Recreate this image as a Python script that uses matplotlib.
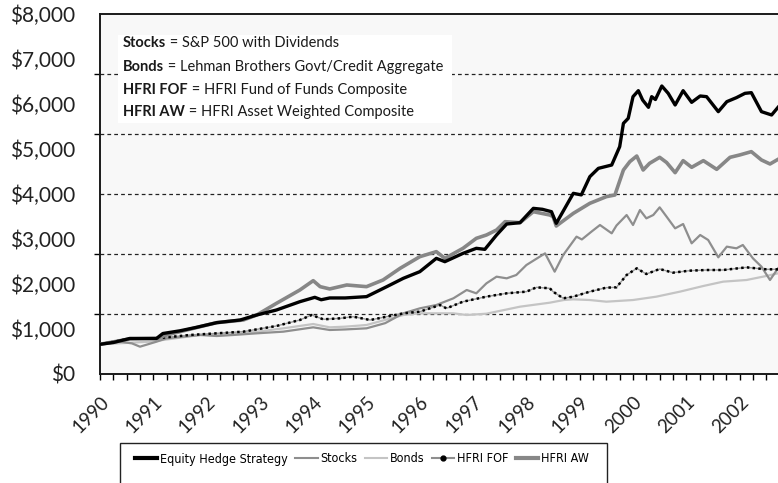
import matplotlib
matplotlib.use("Agg")
import matplotlib.pyplot as plt
from matplotlib.lines import Line2D
from matplotlib.patches import Rectangle
from matplotlib import font_manager
from matplotlib.font_manager import FontProperties

plt.rcParams['font.family'] = ['Lato', 'DejaVu Sans']

# ---------------- data (decimal years, dollars) ----------------
eq_t = [1990.00, 1990.25, 1990.56, 1991.06, 1991.18, 1991.50, 1991.81, 1992.19, 1992.63, 1992.94,
        1993.31, 1993.75, 1994.03, 1994.15, 1994.31, 1994.60, 1995.00, 1995.38, 1995.69, 1996.00,
        1996.31, 1996.47, 1996.81, 1997.06, 1997.22, 1997.44, 1997.63, 1997.88, 1998.13, 1998.30,
        1998.47, 1998.56, 1998.88, 1999.03, 1999.19, 1999.35, 1999.60, 1999.75, 1999.82, 1999.91,
        2000.00, 2000.10, 2000.18, 2000.29, 2000.35, 2000.42, 2000.54, 2000.66, 2000.79, 2000.94,
        2001.10, 2001.26, 2001.38, 2001.60, 2001.76, 2001.94, 2002.10, 2002.22, 2002.41, 2002.60,
        2002.72]
eq_v = [660, 700, 790, 790, 900, 960, 1037, 1141, 1200, 1311,
        1422, 1607, 1704, 1650, 1690, 1690, 1719, 1941, 2126, 2274,
        2570, 2496, 2681, 2793, 2770, 3089, 3333, 3363, 3681, 3660,
        3607, 3348, 4015, 3980, 4385, 4570, 4644, 5052, 5570, 5681,
        6163, 6296, 6089, 5926, 6163, 6100, 6400, 6237, 5978, 6296,
        6037, 6178, 6163, 5830, 6052, 6141, 6237, 6252, 5830, 5756,
        5926]

aw_t = [1990.00, 1990.56, 1991.06, 1991.25, 1991.88, 1992.19, 1992.69, 1992.94, 1993.31, 1993.75,
        1994.00, 1994.13, 1994.31, 1994.63, 1995.00, 1995.31, 1995.63, 1996.00, 1996.31, 1996.47,
        1996.81, 1997.06, 1997.25, 1997.44, 1997.60, 1997.88, 1998.13, 1998.44, 1998.50, 1998.56,
        1998.88, 1999.19, 1999.50, 1999.66, 1999.82, 1999.94, 2000.07, 2000.19, 2000.31, 2000.50,
        2000.63, 2000.79, 2000.94, 2001.10, 2001.32, 2001.57, 2001.82, 2002.00, 2002.22, 2002.41,
        2002.57, 2002.72]
aw_v = [660, 780, 790, 867, 1052, 1141, 1200, 1311, 1570, 1867,
        2074, 1941, 1890, 1978, 1941, 2089, 2348, 2607, 2719, 2570,
        2793, 3015, 3089, 3200, 3385, 3363, 3607, 3533, 3496, 3289,
        3570, 3793, 3941, 3978, 4533, 4719, 4844, 4533, 4681, 4815,
        4700, 4474, 4741, 4593, 4741, 4548, 4815, 4867, 4941, 4756,
        4667, 4770]

st_t = [1990.00, 1990.38, 1990.60, 1990.75, 1991.06, 1991.25, 1991.88, 1992.19, 1992.50, 1992.94,
        1993.44, 1994.00, 1994.31, 1994.60, 1995.00, 1995.35, 1995.69, 1996.00, 1996.31, 1996.63,
        1996.88, 1997.06, 1997.25, 1997.44, 1997.63, 1997.81, 1998.00, 1998.25, 1998.35, 1998.53,
        1998.69, 1998.94, 1999.04, 1999.22, 1999.38, 1999.60, 1999.69, 1999.88, 2000.00, 2000.13,
        2000.25, 2000.38, 2000.50, 2000.63, 2000.79, 2000.94, 2001.10, 2001.26, 2001.41, 2001.60,
        2001.76, 2001.94, 2002.06, 2002.25, 2002.41, 2002.57, 2002.72]
st_v = [660, 718, 680, 607, 718, 793, 867, 844, 867, 904,
        941, 1037, 978, 990, 1015, 1130, 1348, 1459, 1533, 1682,
        1867, 1793, 2015, 2163, 2126, 2200, 2422, 2607, 2681, 2274,
        2644, 3052, 2990, 3163, 3311, 3126, 3300, 3533, 3311, 3644,
        3459, 3533, 3704, 3496, 3237, 3333, 2904, 3089, 2978, 2593,
        2830, 2793, 2867, 2570, 2385, 2089, 2348]

fof_t = [1990.00, 1990.56, 1991.06, 1991.69, 1992.19, 1992.69, 1993.31, 1993.75, 1993.97, 1994.19,
         1994.50, 1994.75, 1995.07, 1995.69, 1996.00, 1996.38, 1996.50, 1996.81, 1997.25, 1997.63,
         1998.00, 1998.19, 1998.44, 1998.50, 1998.69, 1998.88, 1999.19, 1999.50, 1999.69, 1999.88,
         2000.07, 2000.25, 2000.50, 2000.75, 2001.06, 2001.38, 2001.69, 2002.13, 2002.50, 2002.72]
fof_v = [660, 793, 793, 867, 904, 941, 1067, 1200, 1311, 1215,
         1237, 1274, 1200, 1348, 1385, 1533, 1459, 1607, 1719, 1793,
         1830, 1926, 1904, 1830, 1682, 1719, 1830, 1919, 1926, 2200,
         2348, 2222, 2333, 2252, 2296, 2311, 2311, 2370, 2326, 2326]

bd_t = [1990.00, 1990.94, 1991.88, 1992.69, 1993.44, 1994.00, 1994.31, 1994.60, 1995.00, 1995.69,
        1996.00, 1996.63, 1996.88, 1997.25, 1997.88, 1998.44, 1998.70, 1998.88, 1999.19, 1999.50,
        2000.00, 2000.44, 2000.88, 2001.32, 2001.69, 2002.13, 2002.50, 2002.72]
bd_v = [660, 718, 867, 904, 1015, 1111, 1037, 1052, 1089, 1311,
        1348, 1348, 1311, 1340, 1496, 1585, 1644, 1659, 1644, 1607,
        1644, 1719, 1830, 1956, 2052, 2089, 2178, 2237]

years = list(range(1990, 2003))
y_labels = ['$0', '$1,000', '$2,000', '$3,000', '$4,000', '$5,000', '$6,000', '$7,000', '$8,000']
legend_names = ['Equity Hedge Strategy', 'Stocks', 'Bonds', 'HFRI FOF', 'HFRI AW']
note_bold = ['Stocks', 'Bonds', 'HFRI FOF', 'HFRI AW']
note_text = [' = S&P 500 with Dividends', ' = Lehman Brothers Govt/Credit Aggregate',
             ' = HFRI Fund of Funds Composite', ' = HFRI Asset Weighted Composite']


# look for an installed condensed / narrow sans face for the legend
def find_condensed():
    best = None
    for f in font_manager.fontManager.ttflist:
        nm = f.name.lower()
        fn = f.fname.lower()
        is_cond = ('condensed' in nm or 'narrow' in nm or 'condensed' in fn or 'narrow' in fn
                   or f.stretch in ('condensed', 'semi-condensed', 'extra-condensed'))
        if not is_cond:
            continue
        if f.style != 'normal':
            continue
        w = f.weight if isinstance(f.weight, int) else 400
        if w != 400:
            continue
        if 'mono' in nm or ('serif' in nm and 'sans' not in nm):
            continue
        if 'liberation' in nm:
            score = 3
        elif 'dejavu' in nm:
            score = 2
        else:
            score = 1
        if best is None or score > best[0]:
            best = (score, f.fname)
    return best[1] if best else None


cond_file = find_condensed()

# ---------------- figure ----------------
W, H = 778, 483
fig = plt.figure(figsize=(W / 100, H / 100), dpi=100)
ax = fig.add_axes([100 / W, 1 - 374 / H, 678 / W, 360 / H])
ax.set_facecolor('#f8f8f8')

ax.set_xlim(1990, 2002.72)
ax.set_ylim(0, 8000)

# gridlines at 1/6 divisions
grid_vals = [8000 * k / 6 for k in range(1, 6)]
for g in grid_vals:
    ax.axhline(g, color='#222222', lw=0.9, ls=(0, (3, 2.5)), zorder=1)

# note box
ax.add_patch(Rectangle((18 / 678, (374 - 123) / 360), 334 / 678, 88 / 360,
                       transform=ax.transAxes, facecolor='white', edgecolor='none', zorder=2))

# series
ax.plot(bd_t, bd_v, color='#c4c4c4', lw=1.6, zorder=3)
ax.plot(st_t, st_v, color='#8e8e8e', lw=1.6, zorder=4)
ax.plot(fof_t, fof_v, color='#9a9a9a', lw=1.0, zorder=5)
ax.plot(fof_t, fof_v, color='black', lw=1.8, ls=(0, (1, 1.3)), zorder=5)
ax.plot(aw_t, aw_v, color='#878787', lw=2.6, zorder=6)
ax.plot(eq_t, eq_v, color='black', lw=2.4, zorder=7)

# spines
for s in ['top', 'left', 'bottom']:
    ax.spines[s].set_linewidth(1.4)
    ax.spines[s].set_color('#1a1a1a')
ax.spines['right'].set_visible(False)

# y axis
ax.set_yticks(range(0, 8001, 1000))
ax.set_yticklabels(y_labels, fontsize=15)
ax.set_yticks(grid_vals + [0], minor=True)
ax.tick_params(axis='y', which='major', length=0, pad=18, labelcolor='#222222')
ax.tick_params(axis='y', which='minor', length=4, width=1, direction='out')

# x axis
ax.set_xticks(years)
ax.set_xticklabels([str(y) for y in years], rotation=45, ha='right', va='top',
                   rotation_mode='anchor', fontsize=13.5)
ax.set_xticks([1990 + q * 0.25 for q in range(0, 51)], minor=True)
ax.tick_params(axis='x', which='both', length=4, width=1, direction='out', pad=10,
               labelcolor='#222222')

# notes
ys = [(374 - 43) / 360, (374 - 67) / 360, (374 - 90) / 360, (374 - 112) / 360]
for b, t, yy in zip(note_bold, note_text, ys):
    tb = ax.text(23 / 678, yy, b, transform=ax.transAxes, fontsize=10.5, fontweight='bold',
                 va='center', ha='left', zorder=8, color='#1a1a1a')
    ax.annotate(t, xy=(1, 0.5), xycoords=tb, va='center', ha='left', fontsize=10.5,
                zorder=8, color='#1a1a1a')

# legend (frame drawn separately so that it runs off the bottom like the original)
fig.patches.append(Rectangle((120 / W, 1 - 495 / H), 487 / W, 52 / H, transform=fig.transFigure,
                             facecolor='white', edgecolor='#222222', linewidth=1.0, zorder=0))
handles = [
    Line2D([], [], color='black', lw=3),
    Line2D([], [], color='#8e8e8e', lw=1.5),
    Line2D([], [], color='#c4c4c4', lw=1.5),
    Line2D([], [], color='#8e8e8e', lw=1.5, marker='o', markersize=3.5,
           markerfacecolor='black', markeredgecolor='black'),
    Line2D([], [], color='#878787', lw=3),
]
if cond_file:
    leg_prop = FontProperties(fname=cond_file, size=9)
else:
    leg_prop = FontProperties(family=['Lato'], size=8.5)
leg = fig.legend(handles, legend_names, loc='center', bbox_to_anchor=(362 / W, 1 - 459 / H),
                 ncol=5, prop=leg_prop, frameon=False,
                 handlelength=1.8, handletextpad=0.25, columnspacing=0.55, borderpad=0.2,
                 borderaxespad=0)

fig.savefig('out.png', dpi=100, facecolor='white')
